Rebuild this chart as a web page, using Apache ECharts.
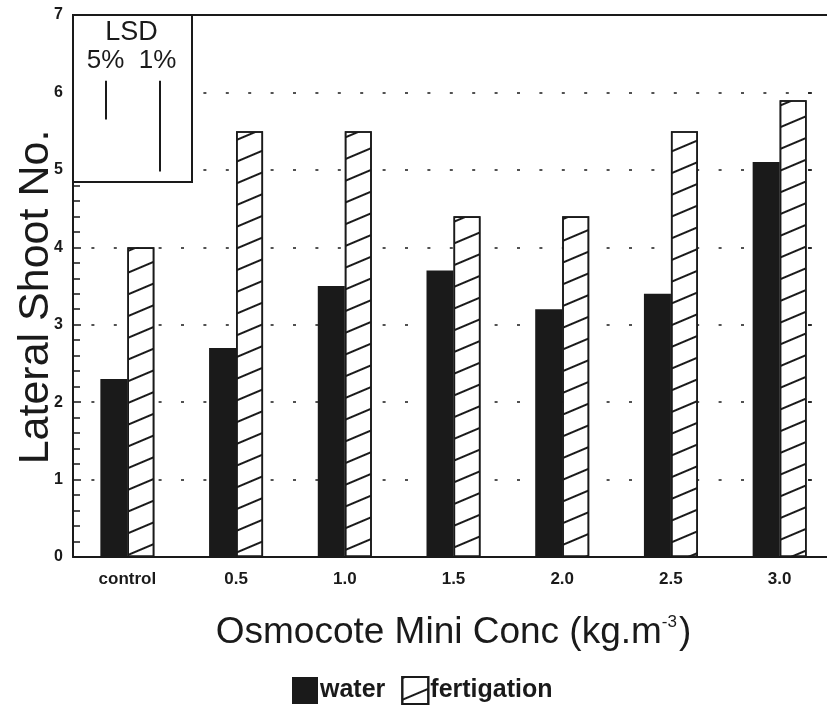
<!DOCTYPE html>
<html>
<head>
<meta charset="utf-8">
<script src="https://cdn.jsdelivr.net/npm/echarts@6/dist/echarts.min.js"></script>
<style>
  html, body { margin: 0; padding: 0; background: #fff; }
  #chart { width: 827px; height: 709px; }
</style>
</head>
<body>
<div id="chart"></div>
<script>
// Lateral shoot number per Osmocote Mini concentration, water vs fertigation
const categories = ['control', '0.5', '1.0', '1.5', '2.0', '2.5', '3.0'];
const waterValues = [2.3, 2.7, 3.5, 3.7, 3.2, 3.4, 5.1];
const fertigationValues = [4.0, 5.5, 5.5, 4.4, 4.4, 5.5, 5.9];
const seriesNames = ['water', 'fertigation'];
const yMin = 0, yMax = 7, yStep = 1;

// Least significant difference bars shown in the inset box
const lsdLabels = ['5%', '1%'];
const lsdValues = [0.5, 1.17];
const lsdTop = 6.15;

const FONT = '"Liberation Sans", Arial, Helvetica, sans-serif';
const INK = '#1a1a1a';

const chart = echarts.init(document.getElementById('chart'), null, { renderer: 'canvas' });

const hatch = {
  symbol: 'rect',
  symbolSize: 1,
  color: INK,
  dashArrayX: [1, 0],
  dashArrayY: [1.6, 17.4],
  rotation: -0.4
};

const option = {
  backgroundColor: '#fff',
  animation: false,
  grid: { left: 73, top: 15, right: -7, bottom: 152, containLabel: false, outerBoundsMode: 'none' },
  legend: {
    data: seriesNames,
    left: 287,
    top: 671,
    itemWidth: 26,
    itemHeight: 27,
    itemGap: 16,
    icon: 'rect',
    textStyle: { fontFamily: FONT, fontSize: 25, fontWeight: 'bold', color: INK, padding: [4, 0, 0, -3] }
  },
  xAxis: [
    {
      type: 'category',
      data: categories,
      position: 'bottom',
      axisLine: { onZero: false, lineStyle: { color: INK, width: 2 } },
      axisTick: { show: false },
      axisLabel: { fontFamily: FONT, fontSize: 17, fontWeight: 'bold', color: INK, margin: 14 },
      name: 'Osmocote Mini Conc (kg.m{sup|-3})',
      nameLocation: 'middle',
      nameGap: 57,
      nameMoveOverlap: false,
      nameTextStyle: {
        fontFamily: FONT, fontSize: 37, color: INK,
        rich: { sup: { fontFamily: FONT, fontSize: 17, color: INK, verticalAlign: 'top', padding: [0, 2, 16, 0] } }
      }
    },
    {
      type: 'category',
      data: categories,
      position: 'top',
      axisLine: { onZero: false, lineStyle: { color: INK, width: 2 } },
      axisTick: { show: false },
      axisLabel: { show: false }
    }
  ],
  yAxis: [
    {
      type: 'value',
      min: yMin, max: yMax, interval: yStep,
      position: 'left',
      axisLine: { show: true, onZero: false, lineStyle: { color: INK, width: 2 } },
      axisTick: { show: true, inside: true, length: 8, lineStyle: { color: INK, width: 1.5 } },
      minorTick: { show: true, splitNumber: 5, length: 7, lineStyle: { color: INK, width: 1.5 } },
      axisLabel: { fontFamily: FONT, fontSize: 16, fontWeight: 'bold', color: INK, margin: 10 },
      splitLine: { show: true, lineStyle: { color: INK, width: 1.6, type: [3, 19.4], dashOffset: 4 } },
      name: 'Lateral Shoot No.',
      nameLocation: 'middle',
      nameRotate: 90,
      nameGap: 15,
      nameMoveOverlap: false,
      nameTextStyle: { fontFamily: FONT, fontSize: 43, color: INK, padding: [0, 22, 0, 0] }
    },
    {
      type: 'value',
      min: yMin, max: yMax, interval: yStep,
      position: 'right',
      offset: -26,
      axisLine: { show: false, onZero: false },
      axisTick: { show: true, inside: false, length: 4, lineStyle: { color: INK, width: 1.5 } },
      axisLabel: { show: false },
      splitLine: { show: false }
    }
  ],
  series: [
    {
      name: seriesNames[0],
      type: 'bar',
      data: waterValues,
      barWidth: 27,
      barGap: '0%',
      itemStyle: { color: INK }
    },
    {
      name: seriesNames[1],
      type: 'bar',
      data: fertigationValues,
      barWidth: 27,
      itemStyle: { color: '#fff', borderColor: INK, borderWidth: 1.6, decal: hatch }
    }
  ]
};

chart.setOption(option);

// Inset box with the LSD bars, lengths taken from the value axis
const yPx = v => chart.convertToPixel({ yAxisIndex: 0 }, v);
const lsdX = [106, 160];
const graphics = [
  {
    type: 'rect', z: 100,
    shape: { x: 73, y: 15, width: 119, height: 167 },
    style: { fill: '#fff', stroke: INK, lineWidth: 2 }
  },
  {
    type: 'text', z: 101, x: 131.5, y: 33,
    style: { text: 'LSD', font: '27px ' + FONT, fill: INK, textAlign: 'center', textVerticalAlign: 'middle' }
  },
  {
    type: 'text', z: 101, x: 131.5, y: 61,
    style: { text: lsdLabels.join('  '), font: '26px ' + FONT, fill: INK, textAlign: 'center', textVerticalAlign: 'middle' }
  }
];
lsdValues.forEach((v, i) => {
  graphics.push({
    type: 'line', z: 101,
    shape: { x1: lsdX[i], y1: yPx(lsdTop), x2: lsdX[i], y2: yPx(lsdTop - v) },
    style: { stroke: INK, lineWidth: 2 }
  });
});
chart.setOption({ graphic: graphics });
</script>
</body>
</html>
